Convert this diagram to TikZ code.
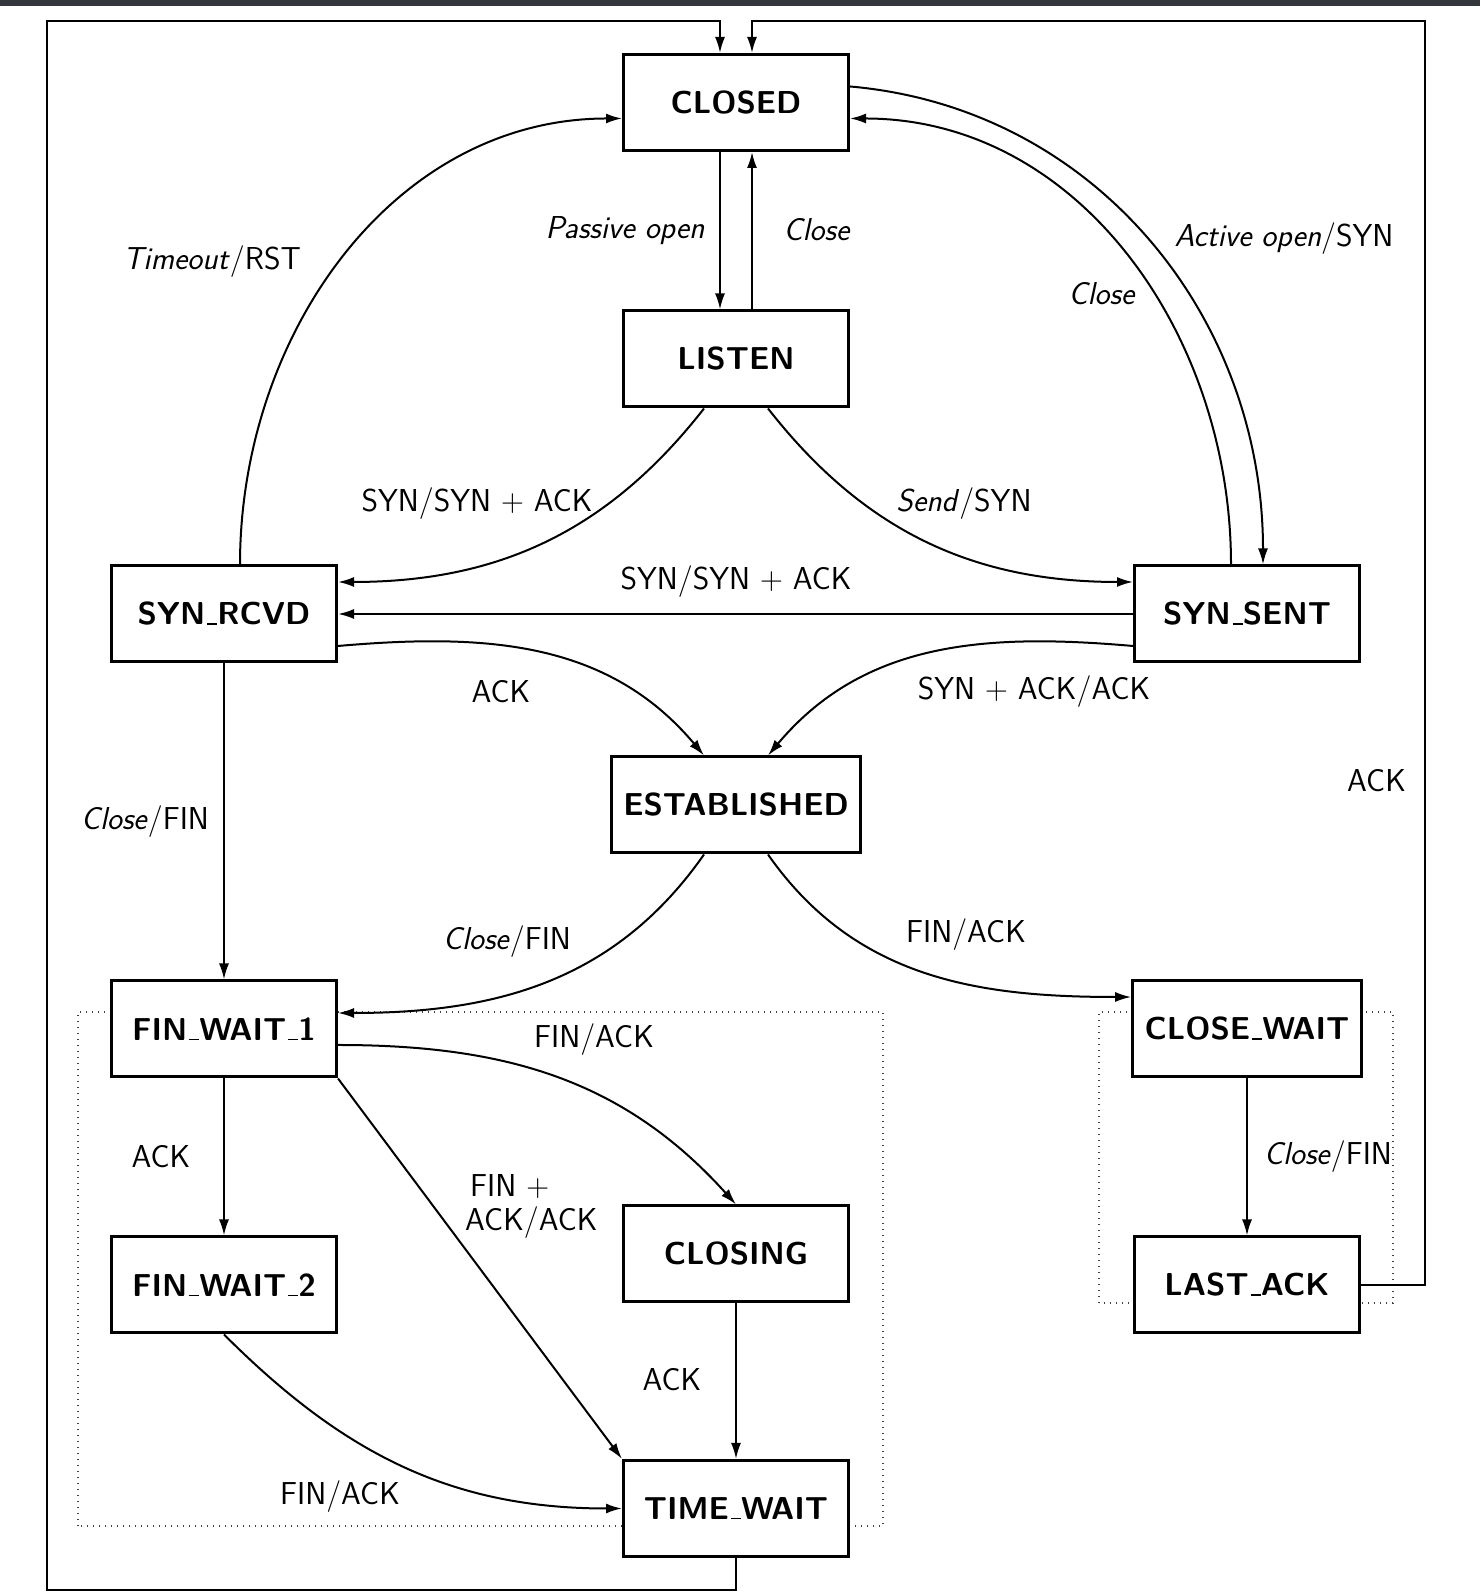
\documentclass[tikz,border=0pt]{standalone}
\usetikzlibrary{arrows.meta}
\definecolor{topbar}{RGB}{52,55,59}
% short baseline underscore used in the state names
\newcommand\usc{\leavevmode\kern.06em\vbox{\hrule height 1.8pt width .32em}}
% roman plus sign between protocol flags
\newcommand\plus{{\rmfamily +}}
\begin{document}
\begin{tikzpicture}[x=1pt,y=1pt,
  state/.style={draw, line width=3, fill=white, minimum width=225, minimum height=96,
    inner xsep=12, font=\sffamily\bfseries\fontsize{31.7}{38}\selectfont},
  edge/.style={line width=2, -{Latex[length=16,width=10]}},
  lbl/.style={inner sep=0, anchor=base, font=\sffamily\fontsize{31.7}{34}\selectfont},
  group/.style={line width=1.3, dash pattern=on 1.3 off 4.7, black!75}
]
\useasboundingbox (0,0) rectangle (1480,1594);
\fill[white] (0,0) rectangle (1480,1594);
\fill[topbar] (0,1588) rectangle (1480,1594);

% dotted groupings of the closing states
\draw[group] (78,68) rectangle (883,582);
\draw[group] (1099,291) rectangle (1393,582);

% states
\node[state] (closed)      at (736,1491.5) {CLOSED};
\node[state] (listen)      at (736,1235)   {LISTEN};
\node[state] (synrcvd)     at (224,980)    {SYN\usc RCVD};
\node[state] (synsent)     at (1247,980)   {SYN\usc SENT};
\node[state] (established) at (736,789)    {ESTABLISHED};
\node[state] (finwait1)    at (224,565)    {FIN\usc WAIT\usc 1};
\node[state] (closewait)   at (1247,565)   {CLOSE\usc WAIT};
\node[state] (finwait2)    at (224,309)    {FIN\usc WAIT\usc 2};
\node[state] (lastack)     at (1247,309)   {LAST\usc ACK};
\node[state] (closing)     at (736,340)    {CLOSING};
\node[state] (timewait)    at (736,85.5)   {TIME\usc WAIT};

% corners of the two outer return loops
\coordinate (loopBL) at (47,4);
\coordinate (loopTL) at (47,1573);
\coordinate (loopTR) at (1425,1573);
\coordinate (cin1) at ([xshift=-16]closed.north);
\coordinate (cin2) at ([xshift=16]closed.north);

% transitions
\draw[edge] ([xshift=-16]closed.south) -- ([xshift=-16]listen.north);
\draw[edge] ([xshift=16]listen.north) -- ([xshift=16]closed.south);
\draw[edge] (timewait.south) |- (loopBL) -- (loopTL) -| (cin1);
\draw[edge] (lastack.east) -| (loopTR) -| (cin2);
\draw[edge] ([xshift=16]synrcvd.north) to[out=90,in=180] ([yshift=-16]closed.west);
\draw[edge] ([yshift=16]closed.east) to[out=-5,in=90] ([xshift=16]synsent.north);
\draw[edge] ([xshift=-16]synsent.north) to[out=90,in=0] ([yshift=-16]closed.east);
\draw[edge] ([xshift=-32]listen.south) to[out=-128,in=0] ([yshift=32]synrcvd.east);
\draw[edge] ([xshift=32]listen.south) to[out=-52,in=180] ([yshift=32]synsent.west);
\draw[edge] (synsent.west) -- (synrcvd.east);
\draw[edge] ([yshift=-32]synrcvd.east) to[out=5,in=130] ([xshift=-32]established.north);
\draw[edge] ([yshift=-32]synsent.west) to[out=175,in=50] ([xshift=32]established.north);
\draw[edge] (synrcvd.south) -- (finwait1.north);
\draw[edge] ([xshift=-32]established.south) to[out=-125,in=0] ([yshift=16]finwait1.east);
\draw[edge] ([xshift=32]established.south) to[out=-55,in=180] ([yshift=32]closewait.west);
\draw[edge] (finwait1.south) -- (finwait2.north);
\draw[edge] ([yshift=-16]finwait1.east) to[out=0,in=132] (closing.north);
\draw[edge] (finwait1.south east) -- (timewait.north west);
\draw[edge] (closing.south) -- (timewait.north);
\draw[edge] (finwait2.south) to[out=-45,in=180] (timewait.west);
\draw[edge] (closewait.south) -- (lastack.north);

% transition labels
\node[lbl] (lpassive)  at (625,1355)  {\textit{Passive open}};
\node[lbl] (lclosea)   at (817,1353)  {\textit{Close}};
\node[lbl] (ltimeout)  at (212,1324)  {\textit{Timeout}/RST};
\node[lbl] (lactive)   at (1284,1347) {\textit{Active open}/SYN};
\node[lbl] (lcloseb)   at (1102,1289) {\textit{Close}};
\node[lbl] (lsyna)     at (477,1082)  {SYN/SYN \plus{} ACK};
\node[lbl] (lsend)     at (964,1082)  {\textit{Send}/SYN};
\node[lbl] (lsynb)     at (736,1004)  {SYN/SYN \plus{} ACK};
\node[lbl] (lacka)     at (501,891)   {ACK};
\node[lbl] (lsynack)   at (1034,894)  {SYN \plus{} ACK/ACK};
\node[lbl] (lclosefa)  at (145,764)   {\textit{Close}/FIN};
\node[lbl] (lackr)     at (1376.5,802) {ACK};
\node[lbl] (lclosefb)  at (507,644)   {\textit{Close}/FIN};
\node[lbl] (lfinacka)  at (966,651)   {FIN/ACK};
\node[lbl] (lfinackb)  at (594,546)   {FIN/ACK};
\node[lbl] (lackb)     at (161,426)   {ACK};
\node[lbl, anchor=north west, align=left] (lfinplus) at (465,420) {\kern5pt FIN \plus\\ACK/ACK};
\node[lbl] (lackc)     at (672,203)   {ACK};
\node[lbl] (lfinackc)  at (340,89)    {FIN/ACK};
\node[lbl] (lclosefc)  at (1328,429)  {\textit{Close}/FIN};
\end{tikzpicture}
\end{document}
